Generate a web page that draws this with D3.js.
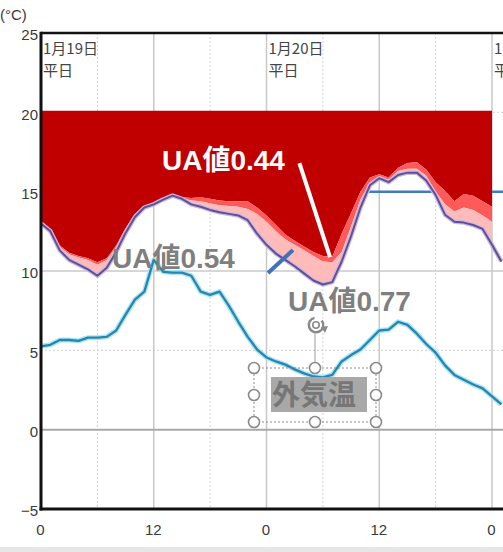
<!DOCTYPE html>
<html>
<head>
<meta charset="utf-8">
<script src="https://cdn.jsdelivr.net/npm/d3@7"></script>
<style>
  html, body { margin: 0; padding: 0; background: #fff; }
  svg { display: block; }
</style>
</head>
<body>
<svg id="chart" width="503" height="552"></svg>
<script>
// ---------------- data ----------------
const hours = [0,1,2,3,4,5,6,7,8,9,10,11,12,13,14,15,16,17,18,19,20,21,22,23,24,
               25,26,27,28,29,30,31,32,33,34,35,36,37,38,39,40,41,42,43,44,45,46,47,48,49];
// indoor temperature for each UA value (°C)
const ua044 = [13.0,12.6,11.6,11.15,10.95,10.8,10.55,10.8,11.6,12.7,
               13.6,14.1,14.25,14.5,14.75,14.65,14.6,14.65,14.55,14.45,
               14.4,14.4,14.4,14.0,13.5,12.9,12.3,11.9,11.55,11.2,
               10.95,10.9,12.35,13.65,15.0,15.9,16.1,15.9,16.5,16.8,
               16.85,16.4,15.6,15.05,14.4,14.85,14.75,14.4,14.05];
const ua054 = [13.0,12.55,11.5,11.05,10.85,10.7,10.4,10.7,11.5,12.6,
               13.5,14.05,14.2,14.5,14.75,14.6,14.45,14.4,14.25,14.15,
               14.1,14.05,13.9,13.6,13.1,12.5,12.0,11.65,11.3,10.95,
               10.6,10.55,11.2,12.8,14.5,15.6,15.95,15.75,16.3,16.45,
               16.45,16.0,15.0,14.2,13.75,14.0,13.85,13.5,13.1];
const ua077 = [13.0,12.5,11.3,10.7,10.4,10.1,9.7,10.2,11.2,12.4,
               13.4,14.0,14.2,14.5,14.75,14.55,14.2,14.05,13.85,13.7,
               13.6,13.5,13.2,12.35,11.65,11.1,10.7,10.3,9.85,9.4,
               9.15,9.3,10.6,12.2,14.0,15.4,15.85,15.6,16.05,16.2,
               16.2,15.7,14.8,13.55,13.1,13.05,12.9,12.65,11.65,10.6];
const outdoor = [5.25,5.35,5.65,5.65,5.6,5.8,5.8,5.85,6.25,7.25,
                 8.2,8.7,10.7,9.95,9.9,9.9,9.7,8.7,8.5,8.7,
                 7.8,6.8,5.85,5.05,4.55,4.3,4.1,3.8,3.55,3.35,
                 3.3,3.45,4.3,4.7,5.05,5.65,6.25,6.3,6.8,6.6,
                 6.05,5.4,4.85,4.05,3.45,3.15,2.85,2.6,2.1,1.6];
const targetTemp = 20;          // top of the shortfall area
const setpointHours = [34.4, 50];
const setpointTemp = 15;
const yTicks = [-5, 0, 5, 10, 15, 20, 25];
const xTicks = [0, 12, 24, 36, 48];
const xTickLabels = ["0", "12", "0", "12", "0"];
const dayStarts = [0, 24, 48];
const dateLabels = ["1月19日", "1月20日", "1月21日"];
const dayTypes = ["平日", "平日", "平日"];
const uaLabels = ["UA値0.44", "UA値0.54", "UA値0.77"];
const outdoorLabel = "外気温";

// ---------------- layout ----------------
const svg = d3.select("#chart");
const L = 41, R = 503, T = 33, B = 509;
const x = d3.scaleLinear().domain([0, 48]).range([L, 492]);
const y = d3.scaleLinear().domain([-5, 25]).range([B, T]);

svg.append("defs").append("clipPath").attr("id", "plot")
  .append("rect").attr("x", L).attr("y", T).attr("width", R - L).attr("height", B - T);

svg.append("rect").attr("x", 0).attr("y", 547).attr("width", 503).attr("height", 5).attr("fill", "#e6e6e6");

const plot = svg.append("g").attr("clip-path", "url(#plot)");

// grid
const vSolid = [12, 24, 36, 48], vDot = [6, 18, 30, 42];
plot.selectAll(".vs").data(vSolid).join("line")
  .attr("x1", d => x(d)).attr("x2", d => x(d)).attr("y1", T).attr("y2", B)
  .attr("stroke", "#c8c8c8").attr("stroke-width", 1.5);
plot.selectAll(".vd").data(vDot).join("line")
  .attr("x1", d => x(d)).attr("x2", d => x(d)).attr("y1", T).attr("y2", B)
  .attr("stroke", "#d4d4d4").attr("stroke-width", 1).attr("stroke-dasharray", "2,2");
plot.selectAll(".hd").data([5, 15, 20]).join("line")
  .attr("x1", L).attr("x2", R).attr("y1", d => y(d)).attr("y2", d => y(d))
  .attr("stroke", "#d0d0d0").attr("stroke-width", 1).attr("stroke-dasharray", "2,2");
plot.append("line").attr("x1", L).attr("x2", R).attr("y1", y(10)).attr("y2", y(10))
  .attr("stroke", "#cacaca").attr("stroke-width", 1.5);
plot.append("line").attr("x1", L).attr("x2", R).attr("y1", y(0)).attr("y2", y(0))
  .attr("stroke", "#a8a8a8").attr("stroke-width", 2);

// setpoint line
plot.append("line")
  .attr("x1", x(setpointHours[0])).attr("x2", x(setpointHours[1]))
  .attr("y1", y(setpointTemp)).attr("y2", y(setpointTemp))
  .attr("stroke", "#3f7cc4").attr("stroke-width", 2.5);

// areas
const rows = ua044.map((v, i) => ({ h: hours[i], a: v, b: ua054[i], c: ua077[i] }));
plot.append("path").datum(rows)
  .attr("d", d3.area().x(d => x(d.h)).y0(y(targetTemp) - 1.5).y1(d => y(d.a)))
  .attr("fill", "#c00000");
plot.append("path").datum(rows)
  .attr("d", d3.area().x(d => x(d.h)).y0(d => y(d.a)).y1(d => y(d.b)))
  .attr("fill", "#ff5a5a");
plot.append("path").datum(rows)
  .attr("d", d3.area().x(d => x(d.h)).y0(d => y(d.b)).y1(d => y(d.c)))
  .attr("fill", "#ffbaba");

// ua 0.77 line
const line = d3.line().x(d => x(d.h)).y(d => y(d.t));
const p77 = ua077.map((v, i) => ({ h: hours[i], t: v }));
plot.append("path").datum(p77).attr("d", line).attr("fill", "none")
  .attr("stroke", "#cdb8e2").attr("stroke-width", 4.5).attr("stroke-linejoin", "round");
plot.append("path").datum(p77).attr("d", line).attr("fill", "none")
  .attr("stroke", "#5e5096").attr("stroke-width", 2).attr("stroke-linejoin", "round");

// outdoor
const pout = outdoor.map((v, i) => ({ h: hours[i], t: v }));
plot.append("path").datum(pout).attr("d", line).attr("fill", "none")
  .attr("stroke", "#a6e6f6").attr("stroke-width", 5).attr("stroke-linejoin", "round");
plot.append("path").datum(pout).attr("d", line).attr("fill", "none")
  .attr("stroke", "#2a84ab").attr("stroke-width", 2.3).attr("stroke-linejoin", "round");

// borders
svg.append("line").attr("x1", L).attr("x2", R).attr("y1", T).attr("y2", T)
  .attr("stroke", "#111").attr("stroke-width", 2.5);
svg.append("line").attr("x1", L - 1.5).attr("x2", R).attr("y1", B).attr("y2", B)
  .attr("stroke", "#111").attr("stroke-width", 3);
svg.append("line").attr("x1", L).attr("x2", L).attr("y1", T - 1.2).attr("y2", B + 1.5)
  .attr("stroke", "#111").attr("stroke-width", 3);

// axes
const tickFont = "'Liberation Sans', Arial, sans-serif";
const yAxis = svg.append("g").attr("transform", `translate(${L - 3},2)`)
  .call(d3.axisLeft(y).tickValues(yTicks).tickSize(0).tickPadding(0));
yAxis.select(".domain").remove();
yAxis.selectAll("text").attr("font-family", tickFont).attr("font-size", 15).attr("fill", "#3a3a3a");

const xAxis = svg.append("g").attr("transform", `translate(-1,${B + 15})`)
  .call(d3.axisBottom(x).tickValues(xTicks).tickSize(0).tickPadding(0)
    .tickFormat((d, i) => xTickLabels[i]));
xAxis.select(".domain").remove();
xAxis.selectAll("text").attr("font-family", tickFont).attr("font-size", 15).attr("fill", "#3a3a3a");

svg.append("text").attr("x", 0).attr("y", 20).text("(°C)")
  .attr("font-family", tickFont).attr("font-size", 15).attr("fill", "#3a3a3a");

// date labels
const cjk = "'Noto Sans CJK JP', sans-serif";
const dl = plot.selectAll(".date").data(dayStarts).join("g");
dl.append("text").attr("x", d => x(d) + 2).attr("y", 54)
  .text((d, i) => dateLabels[i]).attr("font-family", cjk).attr("font-size", 15).attr("fill", "#444");
dl.append("text").attr("x", d => x(d) + 2).attr("y", 76)
  .text((d, i) => dayTypes[i]).attr("font-family", cjk).attr("font-size", 15).attr("fill", "#444");

// annotations
const uaFont = "'Liberation Sans', 'Noto Sans CJK JP', Arial, sans-serif";
plot.append("line")
  .attr("x1", x(27.5)).attr("y1", y(16.8)).attr("x2", x(30.76)).attr("y2", y(10.88))
  .attr("stroke", "#fff").attr("stroke-width", 4);
plot.append("line")
  .attr("x1", x(24.16)).attr("y1", y(9.87)).attr("x2", x(26.82)).attr("y2", y(11.32))
  .attr("stroke", "#3f72b8").attr("stroke-width", 4);

const uaPos = [[162, 170, "#ffffff"], [112, 268, "#7f7f7f"], [288, 311, "#7f7f7f"]];
svg.selectAll(".ua").data(uaLabels).join("text")
  .attr("x", (d, i) => uaPos[i][0]).attr("y", (d, i) => uaPos[i][1])
  .attr("fill", (d, i) => uaPos[i][2])
  .attr("font-family", uaFont).attr("font-weight", "bold").attr("font-size", 28)
  .text(d => d);

// outdoor label with selection frame
svg.append("rect").attr("x", 271).attr("y", 377).attr("width", 96).attr("height", 35).attr("fill", "#a8a8a8");
svg.append("text").attr("x", 272).attr("y", 405).text(outdoorLabel)
  .attr("font-family", cjk).attr("font-weight", "bold").attr("font-size", 28).attr("fill", "#767676");
svg.append("rect").attr("x", 254).attr("y", 368).attr("width", 122).attr("height", 54)
  .attr("fill", "none").attr("stroke", "#8c8c8c").attr("stroke-width", 1).attr("stroke-dasharray", "2,2");
svg.append("line").attr("x1", 315).attr("x2", 315).attr("y1", 334).attr("y2", 362)
  .attr("stroke", "#999").attr("stroke-width", 1);
const handles = [[254,368],[315,368],[376,368],[254,395],[376,395],[254,422],[315,422],[376,422]];
svg.selectAll(".hdl").data(handles).join("circle")
  .attr("cx", d => d[0]).attr("cy", d => d[1]).attr("r", 5.5)
  .attr("fill", "#fff").attr("stroke", "#8a8a8a").attr("stroke-width", 1.6);
// rotation handle
const rot = svg.append("g").attr("transform", "translate(316,325)");
rot.append("path").attr("d", d3.arc().innerRadius(6).outerRadius(8.5).startAngle(0.9).endAngle(2 * Math.PI - 0.2)())
  .attr("fill", "#8a8a8a");
rot.append("circle").attr("r", 3.2).attr("fill", "none").attr("stroke", "#8a8a8a").attr("stroke-width", 1.6);
rot.append("path").attr("d", "M5,2 L12,1 L9,8 Z").attr("fill", "#8a8a8a");
</script>
</body>
</html>
